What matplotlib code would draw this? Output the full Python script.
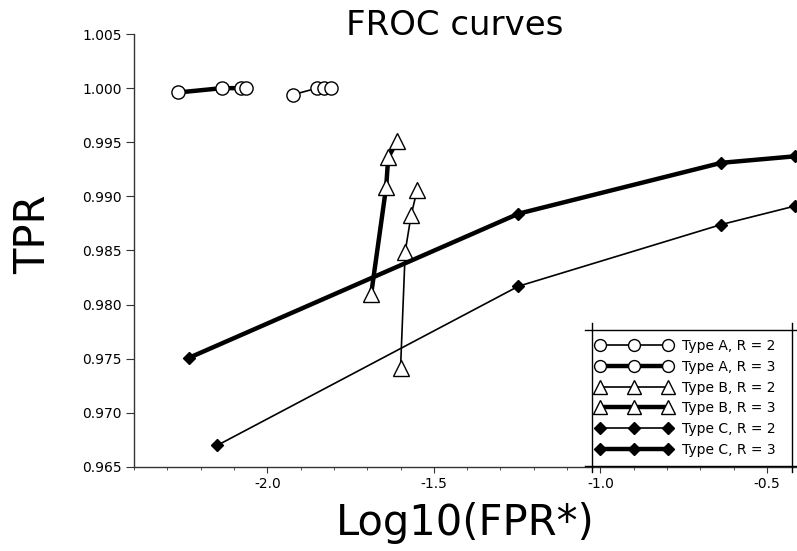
import matplotlib
matplotlib.use("Agg")
import matplotlib.pyplot as plt
from matplotlib.ticker import MultipleLocator, FormatStrFormatter
from matplotlib.lines import Line2D

# Data (log10 FPR*, TPR)
a2_x = [-1.922, -1.850, -1.829, -1.808]
a2_y = [0.9994, 1.0000, 1.0000, 1.0000]
a3_x = [-2.267, -2.135, -2.080, -2.065]
a3_y = [0.9996, 1.0000, 1.0000, 1.0000]

b2_x = [-1.600, -1.586, -1.568, -1.550]
b2_y = [0.9741, 0.9849, 0.9883, 0.9906]
b3_x = [-1.688, -1.643, -1.637, -1.610]
b3_y = [0.9810, 0.9909, 0.9936, 0.9951]

c2_x = [-2.150, -1.246, -0.637, -0.417]
c2_y = [0.9670, 0.9817, 0.9874, 0.9891]
c3_x = [-2.234, -1.246, -0.637, -0.417]
c3_y = [0.9751, 0.9884, 0.9931, 0.9937]

labels = ["Type A, R = 2", "Type A, R = 3", "Type B, R = 2",
          "Type B, R = 3", "Type C, R = 2", "Type C, R = 3"]

W, H = 797, 551
fig = plt.figure(figsize=(W/100, H/100), dpi=100)
ax = fig.add_axes([134/W, (H-467)/H, (W-134)/W, (467-34)/H])

thin, thick = 1.2, 3.2
kw = dict(color='black', mec='black', mew=1.0, clip_on=False)
ax.plot(a2_x, a2_y, '-o', lw=thin, ms=9.5, mfc='white', label=labels[0], **kw)
ax.plot(a3_x, a3_y, '-o', lw=thick, ms=9.5, mfc='white', label=labels[1], **kw)
ax.plot(b2_x, b2_y, '-^', lw=thin, ms=11, mfc='white', label=labels[2], **kw)
ax.plot(b3_x, b3_y, '-^', lw=thick, ms=11, mfc='white', label=labels[3], **kw)
ax.plot(c2_x, c2_y, '-D', lw=thin, ms=6.5, mfc='black', label=labels[4], **kw)
ax.plot(c3_x, c3_y, '-D', lw=thick, ms=6.5, mfc='black', label=labels[5], **kw)

ax.set_xlim(-2.4, -0.41)
ax.set_ylim(0.965, 1.005)
ax.xaxis.set_major_locator(MultipleLocator(0.5))
ax.xaxis.set_minor_locator(MultipleLocator(0.1))
ax.yaxis.set_major_locator(MultipleLocator(0.005))
ax.yaxis.set_major_formatter(FormatStrFormatter('%.3f'))
ax.xaxis.set_major_formatter(FormatStrFormatter('%.1f'))
ax.spines['top'].set_visible(False)
ax.spines['right'].set_visible(False)
for s in ('left', 'bottom'):
    ax.spines[s].set_color('#333333')
    ax.spines[s].set_linewidth(1.0)
ax.tick_params(axis='both', which='major', labelsize=10, direction='out', color='#333333')
ax.tick_params(axis='y', which='major', length=6, pad=3)
ax.tick_params(axis='x', which='major', length=4.5, pad=3)
ax.tick_params(axis='x', which='minor', direction='out', length=2.5, color='#333333')

fig.text(465/W, 1-535/H, "Log10(FPR*)", fontsize=30, ha='center', va='baseline')
fig.text(45/W, 1-234/H, "TPR", fontsize=30, rotation=90, rotation_mode='anchor',
         ha='center', va='baseline')
fig.text(455/W, 1-35/H, "FROC curves", fontsize=24.5, ha='center', va='baseline')

# Legend (frame drawn separately with extended corner lines)
cy = (330+466)/2
leg = ax.legend(loc='center left', bbox_to_anchor=(592/W, 1-cy/H), bbox_transform=fig.transFigure,
                numpoints=3, fontsize=10, frameon=False, markerscale=0.9, borderaxespad=0.0,
                handlelength=5.45, labelspacing=0.48, handletextpad=0.72, borderpad=0.29)
fl = dict(color='black', lw=1.0, transform=fig.transFigure)
fig.add_artist(Line2D([585/W, W/W], [1-330/H, 1-330/H], **fl))
fig.add_artist(Line2D([585/W, W/W], [1-466/H, 1-466/H], **fl))
fig.add_artist(Line2D([592/W, 592/W], [1-323/H, 1-472/H], **fl))
fig.add_artist(Line2D([792/W, 792/W], [1-323/H, 1-472/H], **fl))

fig.savefig("out.png", dpi=100, facecolor='white')
